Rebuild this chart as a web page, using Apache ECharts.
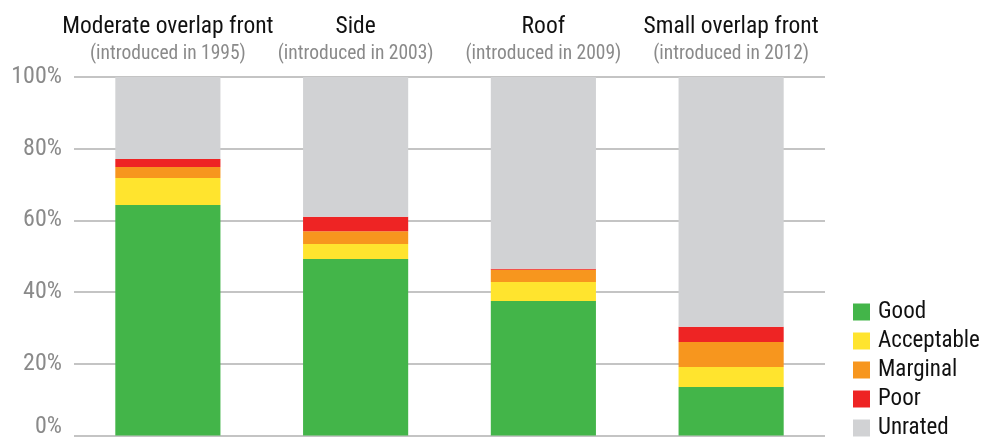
<!DOCTYPE html>
<html>
<head>
<meta charset="utf-8">
<script src="https://cdn.jsdelivr.net/npm/echarts@6/dist/echarts.min.js"></script>
<style>
  html, body { margin: 0; padding: 0; background: #fff; }
  #chart { width: 982px; height: 437px; }
</style>
</head>
<body>
<div id="chart"></div>
<script>
// Crash-test categories and the year each was introduced
const tests = ['Moderate overlap front', 'Side', 'Roof', 'Small overlap front'];
const introduced = ['(introduced in 1995)', '(introduced in 2003)', '(introduced in 2009)', '(introduced in 2012)'];

// Share of vehicles per rating, in percent
const good       = [64.3, 49.2, 37.5, 13.5];
const acceptable = [7.5, 4.2, 5.3, 5.6];
const marginal   = [3.1, 3.6, 3.4, 7.0];
const poor       = [2.2, 4.0, 0.3, 4.2];
const unrated    = [22.9, 39.0, 53.5, 69.7];

const ratingNames = ['Good', 'Acceptable', 'Marginal', 'Poor', 'Unrated'];
const ratingValues = [good, acceptable, marginal, poor, unrated];
const ratingColors = ['#43b549', '#ffe42e', '#f7961e', '#ee2424', '#d1d2d4'];

const yTicks = [0, 20, 40, 60, 80, 100];

const FONT = "'Roboto Condensed', 'DejaVu Sans Condensed', sans-serif";

const chart = echarts.init(document.getElementById('chart'));

chart.setOption({
  animation: false,
  textStyle: { fontFamily: FONT },
  grid: { left: 74, right: 157, top: 77, bottom: 1.5, outerBoundsMode: 'none', containLabel: false },
  legend: {
    orient: 'vertical',
    left: 853,
    top: 300.5,
    height: 160,
    padding: 0,
    itemWidth: 17,
    itemHeight: 17,
    itemGap: 6,
    icon: 'rect',
    data: ratingNames,
    textStyle: { fontFamily: FONT, fontSize: 23, color: '#111', padding: [0, 0, 0, 3] }
  },
  xAxis: {
    type: 'category',
    position: 'top',
    data: tests,
    axisLine: { show: false },
    axisTick: { show: false },
    axisLabel: {
      interval: 0,
      margin: 10,
      formatter: (v, i) => '{t|' + v + '}\n{s|' + introduced[i] + '}',
      rich: {
        t: { fontFamily: FONT, fontSize: 23.5, color: '#111', lineHeight: 28 },
        s: { fontFamily: FONT, fontSize: 19.5, color: '#8a8a8a', lineHeight: 26 }
      }
    }
  },
  yAxis: {
    type: 'value',
    min: 0,
    max: 100,
    interval: 20,
    axisLine: { show: false },
    axisTick: { show: false },
    splitLine: { lineStyle: { color: '#c4c4c4', width: 2 } },
    axisLabel: {
      margin: 12,
      fontFamily: FONT,
      fontSize: 24,
      color: '#8a8a8a',
      formatter: v => {
        if (!yTicks.includes(v)) return '';
        // the bottom label sits above its line so it stays inside the chart
        return v === 0 ? '{z|0%}' : v + '%';
      },
      rich: {
        z: { fontFamily: FONT, fontSize: 24, color: '#8a8a8a', padding: [0, 0, 18, 0] }
      }
    }
  },
  series: ratingNames.map((name, k) => ({
    name,
    type: 'bar',
    stack: 'rating',
    barCategoryGap: '44%',
    data: ratingValues[k],
    itemStyle: { color: ratingColors[k] }
  }))
});
</script>
</body>
</html>
